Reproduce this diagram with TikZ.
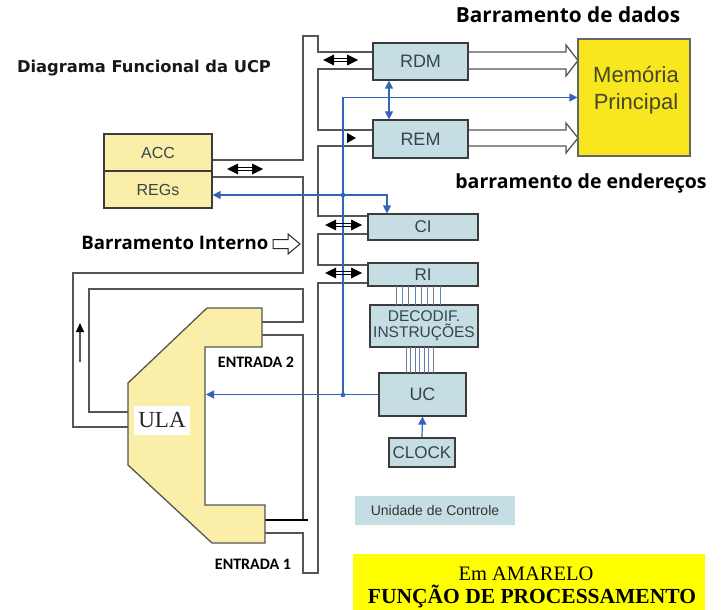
\documentclass[tikz,border=0pt]{standalone}
\usepackage{fontspec}
\setmainfont{Liberation Serif}
\setsansfont{Liberation Sans}
\newfontfamily\titlefont{DejaVu Sans}
\newfontfamily\headfont{Open Sans}
\newfontfamily\calfont{Carlito}
\usetikzlibrary{arrows.meta}
\definecolor{buscol}{RGB}{85,85,85}
\definecolor{boxfill}{RGB}{196,222,228}
\definecolor{boxline}{RGB}{60,60,60}
\definecolor{boxtext}{RGB}{55,68,76}
\definecolor{paleyel}{RGB}{250,238,168}
\definecolor{memyel}{RGB}{248,230,30}
\definecolor{legyel}{RGB}{255,255,0}
\definecolor{bluec}{RGB}{50,100,185}
\definecolor{memtext}{RGB}{70,70,40}
\tikzset{
  bus/.style={draw=buscol, line width=1.4pt, line join=miter},
  cbox/.style={draw=boxline, fill=boxfill, line width=1.2pt, inner sep=0pt, text=boxtext, align=center},
  ybox/.style={draw=boxline, fill=paleyel, line width=1.2pt, inner sep=0pt, text=boxtext},
  bluearr/.style={draw=bluec, line width=1.2pt},
  btip/.style={-{Triangle[length=8pt,width=8pt]}},
  head/.style={font=\headfont\bfseries\fontsize{19.5}{20}\selectfont, text=black, anchor=base, inner sep=0pt},
  entr/.style={font=\calfont\bfseries\fontsize{16}{16}\selectfont, text=black, anchor=base, inner sep=0pt},
  hollow/.style={draw=buscol, line width=1.3pt, fill=white, line join=miter}
}
% double-headed black bus arrow: #1 = left x, #2 = right x, #3 = y
\newcommand{\dblbusarrow}[3]{%
  \draw[black, line width=0.7pt] (#1+8,#3-1.7) -- (#2-8,#3-1.7) (#1+8,#3+1.7) -- (#2-8,#3+1.7);
  \fill[black] (#1,#3) -- (#1+11,#3-5.5) -- (#1+11,#3+5.5) -- cycle;
  \fill[black] (#2,#3) -- (#2-11,#3-5.5) -- (#2-11,#3+5.5) -- cycle;
}
\begin{document}
\begin{tikzpicture}[x=1pt,y=-1pt]
\useasboundingbox (0,0) rectangle (724,610);

% ---- titles
\node[font=\titlefont\bfseries\fontsize{16.3}{17}\selectfont, text=black!90, anchor=base, inner sep=0pt] (title) at (144,72.5) {Diagrama Funcional da UCP};
\node[head, font=\headfont\bfseries\fontsize{20.8}{21}\selectfont] (hdados) at (568,23) {Barramento de dados};
\node[head] (hender) at (581,188) {barramento de endereços};
\node[head, font=\headfont\bfseries\fontsize{18.6}{19}\selectfont] (hint) at (175,249) {Barramento Interno};

% hollow arrow for internal bus
\draw[draw=black!85, line width=1pt, fill=white, line join=miter] (273,239.5) -- (288,239.5) -- (288,234) -- (300,244) -- (288,254) -- (288,248.5) -- (273,248.5) -- cycle;

% ---- memory hollow arrows
\draw[hollow] (468,52) -- (566,52) -- (566,45) -- (578,60.5) -- (566,76) -- (566,69) -- (468,69);
\draw[hollow] (468,130) -- (566,130) -- (566,123) -- (578,138) -- (566,153) -- (566,146) -- (468,146);

% ---- internal bus walls
\draw[bus] (212,160) -- (303,160) -- (303,36) -- (318,36) -- (318,52) -- (373,52);
\draw[bus] (373,69) -- (318,69) -- (318,130) -- (373,130);
\draw[bus] (373,146) -- (318,146) -- (318,216) -- (368,216);
\draw[bus] (368,234) -- (318,234) -- (318,265) -- (368,265);
\draw[bus] (368,283) -- (318,283) -- (318,573) -- (303,573) -- (303,533) -- (265,533);
\draw[bus] (212,177) -- (303,177) -- (303,273) -- (73,273) -- (73,427) -- (128,427);
\draw[bus] (128,412) -- (89,412) -- (89,289) -- (303,289) -- (303,322) -- (262,322);
\draw[bus] (262,335) -- (303,335) -- (303,520) -- (265,520);
\draw[line width=2.8pt, black] (265,520) -- (308,520);

% ---- ULA
\draw[fill=paleyel, draw=buscol, line width=1.3pt, line join=miter] (207,308) -- (262,308) -- (262,347) -- (205,347) -- (205,505) -- (265,505) -- (265,543) -- (212,543) -- (128,465) -- (128,383) -- cycle;
\node[fill=white, inner xsep=3pt, inner ysep=2pt, font=\fontsize{23}{23}\selectfont, text=black!85, minimum width=56pt, minimum height=29pt] (ULA) at (162,420.5) {ULA};
\coordinate (ulaR) at (206,394.5);
\draw[draw=gray!70!black, line width=1.2pt, -{Triangle[length=9pt,width=8pt,black]}] (80,362) -- (80,323);
\node[entr] (e2) at (256,367) {ENTRADA 2};
\node[entr] (e1) at (253,569) {ENTRADA 1};

% ---- boxes
\node[cbox, minimum width=95pt, minimum height=37pt, font=\sffamily\fontsize{18}{18}\selectfont] (RDM) at (420.5,61.5) {RDM};
\node[cbox, minimum width=95pt, minimum height=38pt, font=\sffamily\fontsize{18}{18}\selectfont] (REM) at (420.5,139) {REM};
\node[cbox, minimum width=110pt, minimum height=26pt, font=\sffamily\fontsize{17}{17}\selectfont] (CI) at (423,227) {CI};
\node[cbox, minimum width=110pt, minimum height=23pt, font=\sffamily\fontsize{17}{17}\selectfont] (RI) at (423,274.5) {RI};
\node[cbox, minimum width=108pt, minimum height=42pt, font=\sffamily\fontsize{15.5}{16}\selectfont] (DEC) at (424,326) {DECODIF.\\INSTRUÇÕES};
\node[cbox, minimum width=87pt, minimum height=43pt, font=\sffamily\fontsize{18}{18}\selectfont] (UC) at (422.5,394.5) {UC};
\node[cbox, minimum width=66pt, minimum height=29pt, font=\sffamily\fontsize{17}{17}\selectfont] (CLOCK) at (422,452.5) {CLOCK};
\node[draw=black!60, fill=memyel, line width=1.2pt, minimum width=112pt, minimum height=117pt, inner sep=0pt] (MEM) at (634,97.5) {};
\node[font=\sffamily\fontsize{22}{22}\selectfont, text=memtext, anchor=base, inner sep=0pt] (mem1) at (636,83) {Memória};
\node[font=\sffamily\fontsize{22}{22}\selectfont, text=memtext, anchor=base, inner sep=0pt] (mem2) at (636,110) {Principal};
\node[ybox, minimum width=108pt, minimum height=37pt, font=\sffamily\fontsize{16}{16}\selectfont] (ACC) at (158,152.5) {ACC};
\node[ybox, minimum width=108pt, minimum height=37pt, font=\sffamily\fontsize{16}{16}\selectfont] (REGs) at (158,189.5) {REGs};

% ---- legend boxes
\node[fill=boxfill, minimum width=160pt, minimum height=29pt, inner sep=0pt, font=\sffamily\fontsize{14}{14}\selectfont, text=black!80] (UdC) at (435,510.5) {Unidade de Controle};
\node[fill=legyel, minimum width=352pt, minimum height=58pt, inner sep=0pt] (leg) at (529,583) {};
\node[font=\fontsize{20.5}{21}\selectfont, anchor=base, inner sep=0pt] (leg1) at (526,580) {Em AMARELO};
\node[font=\bfseries\fontsize{21.5}{22}\selectfont, anchor=base, inner sep=0pt] (leg2) at (532,603) {FUNÇÃO DE PROCESSAMENTO};

% ---- decoder wires
\foreach \x [count=\i] in {396,402.3,408.6,414.9,421.2,427.5,433.8,440} {
  \pgfmathsetmacro{\c}{mod(\i,2)==0 ? 1 : 0}
  \ifdim\c pt>0.5pt \draw[bluec!80, line width=0.8pt] (\x,286) -- (\x,305);
  \else \draw[gray!80!bluec, line width=0.8pt] (\x,286) -- (\x,305); \fi
}
\foreach \x [count=\i] in {406,410.5,415,419.5,424,428.5,433} {
  \pgfmathsetmacro{\c}{mod(\i,2)==0 ? 1 : 0}
  \ifdim\c pt>0.5pt \draw[bluec!80, line width=0.8pt] (\x,347) -- (\x,373);
  \else \draw[gray!80!bluec, line width=0.8pt] (\x,347) -- (\x,373); \fi
}

% ---- blue control lines
\coordinate (bx) at (343,0);
\coordinate (cx) at (387,0);
\coordinate (rx) at (389,0);
\coordinate (j1) at (343,195);
\coordinate (j2) at (343,395);
\draw[bluearr, btip] (j2) -- (bx |- MEM.west) -- (MEM.west);
\draw[bluearr, btip] (UC.west) -- (ulaR);
\draw[bluearr, {Triangle[length=8pt,width=8pt]}-{Triangle[length=8pt,width=8pt]}] (REGs.east |- j1) -- (cx |- j1) -- (cx |- CI.north);
\draw[bluearr, {Triangle[length=8pt,width=8pt]}-{Triangle[length=8pt,width=8pt]}] (rx |- RDM.south) -- (rx |- REM.north);
\draw[bluearr, btip] (CLOCK.north) -- (UC.south);
\fill[bluec] (j1) circle (2.3pt);
\fill[bluec] (j2) circle (2.3pt);

% ---- black double arrows
\dblbusarrow{323}{358}{60}
\dblbusarrow{227}{263}{169}
\dblbusarrow{325}{362}{225}
\dblbusarrow{325}{362}{273}
\fill[black] (347,133) -- (356,138) -- (347,143) -- cycle;
\end{tikzpicture}
\end{document}
